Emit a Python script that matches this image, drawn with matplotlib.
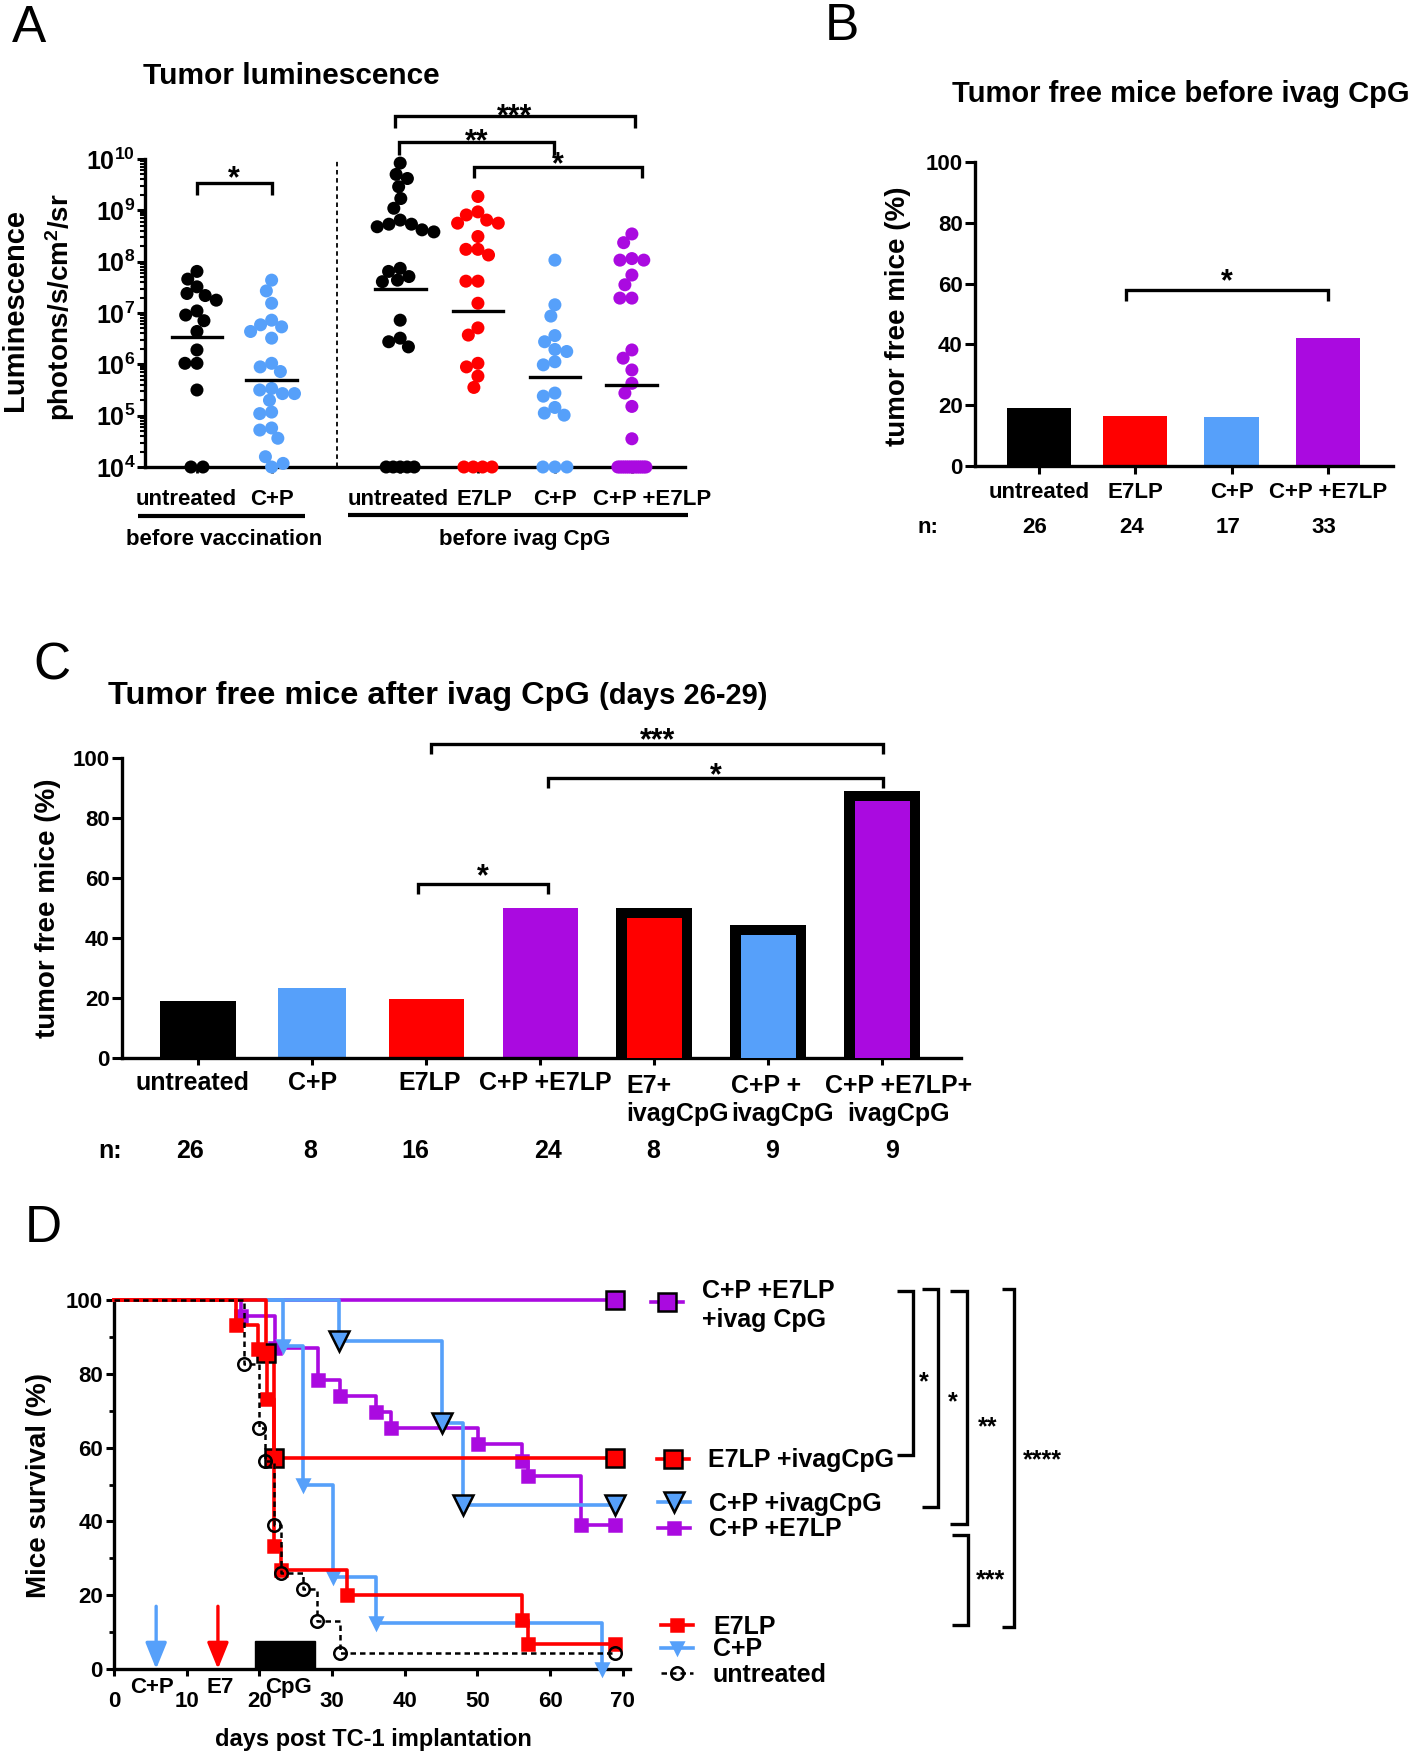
import numpy as np
import matplotlib
matplotlib.use('Agg')
import matplotlib.pyplot as plt
from matplotlib import transforms
from matplotlib.lines import Line2D
from matplotlib.patches import Rectangle
from matplotlib.ticker import LogLocator, NullFormatter, MultipleLocator

W, H = 1418, 1754

BLACK = '#000000'
RED = '#FF0000'
BLUE = '#56A0FA'
PURPLE = '#AA0AE0'

plt.rcParams['font.family'] = ['Liberation Sans', 'DejaVu Sans']
plt.rcParams['font.weight'] = 'bold'
plt.rcParams['mathtext.fontset'] = 'custom'
plt.rcParams['mathtext.rm'] = 'Liberation Sans:bold'
plt.rcParams['mathtext.it'] = 'Liberation Sans:bold'
plt.rcParams['mathtext.bf'] = 'Liberation Sans:bold'
plt.rcParams['axes.linewidth'] = 2.4

# ---------------- A: tumour luminescence, log10 values (4 = tumour free)
lum_groups = ['untreated', 'C+P', 'untreated', 'E7LP', 'C+P', 'C+P +E7LP']
lum_pos = [0.0, 0.97, 2.64, 3.65, 4.65, 5.65]
lum_colors = [BLACK, BLUE, BLACK, RED, BLUE, PURPLE]
lum_pre_untreated = [7.81, 7.66, 7.51, 7.38, 7.34, 7.25, 7.04, 6.96, 6.85, 6.64,
                     6.28, 6.02, 6.02, 5.50, 4, 4]
lum_pre_cp = [7.64, 7.43, 7.19, 6.86, 6.77, 6.73, 6.64, 6.51, 6.02, 5.95, 5.86,
              5.53, 5.50, 5.43, 5.43, 5.30, 5.07, 5.04, 4.76, 4.72, 4.56, 4.20,
              4.07, 4.0]
lum_untreated = [9.92, 9.70, 9.62, 9.46, 9.23, 9.04, 8.81, 8.73, 8.73, 8.68, 8.62,
                 8.58, 7.87, 7.81, 7.71, 7.64, 7.61, 6.86, 6.51, 6.44, 6.34,
                 4, 4, 4, 4, 4]
lum_e7lp = [9.27, 8.97, 8.91, 8.81, 8.75, 8.75, 8.49, 8.24, 8.24, 8.13, 7.62, 7.62,
            7.19, 6.71, 6.57, 6.02, 5.95, 5.77, 5.55, 4, 4, 4, 4]
lum_cp = [8.03, 7.16, 6.94, 6.56, 6.44, 6.29, 6.25, 6.05, 5.99, 5.44, 5.38, 5.16,
          5.05, 5.01, 4, 4, 4]
lum_cpe7 = [8.54, 8.37, 8.06, 8.03, 8.03, 7.74, 7.55, 7.29, 7.29, 6.28, 6.12, 5.89,
            5.63, 5.44, 5.18, 4.55] + [4] * 14
lum_values = [lum_pre_untreated, lum_pre_cp, lum_untreated, lum_e7lp, lum_cp, lum_cpe7]
lum_medians = [6.54, 5.69, 7.46, 7.03, 5.76, 5.60]

# ---------------- B: tumour free before ivag CpG
tfb_groups = ['untreated', 'E7LP', 'C+P', 'C+P +E7LP']
tfb_values = [19.2, 16.4, 16.1, 42.1]
tfb_n = [26, 24, 17, 33]
tfb_colors = [BLACK, RED, BLUE, PURPLE]

# ---------------- C: tumour free after ivag CpG
tfa_groups = ['untreated', 'C+P', 'E7LP', 'C+P +E7LP', 'E7+\nivagCpG',
              'C+P +\nivagCpG', 'C+P +E7LP+\nivagCpG']
tfa_values = [18.9, 23.3, 19.7, 50.0, 50.0, 44.4, 88.9]
tfa_n = [26, 8, 16, 24, 8, 9, 9]
tfa_ivag = [False, False, False, False, True, True, True]
tfa_colors = [BLACK, BLUE, RED, PURPLE, RED, BLUE, PURPLE]

# ---------------- D: survival (days, % surviving after each event)
surv_cpe7_ivag_t = [0, 69.0]
surv_cpe7_ivag = [100, 100]
surv_cpe7_t = [0, 17.5, 22.1, 28.1, 31.1, 36.1, 38.1, 50.1, 56.1, 57.0, 64.2, 69.0]
surv_cpe7 = [100, 95.7, 87.0, 78.3, 73.9, 69.6, 65.2, 60.9, 56.5, 52.2, 39.1, 39.1]
surv_cp_ivag_t = [0, 30.9, 45.1, 48.0, 69.0]
surv_cp_ivag = [100, 88.9, 66.7, 44.4, 44.4]
surv_cp_t = [0, 23.2, 26.0, 30.1, 36.0, 67.1]
surv_cp = [100, 87.5, 50.0, 25.0, 12.5, 0]
surv_e7_ivag_t = [0, 20.9, 22.0, 69.0]
surv_e7_ivag = [100, 85.7, 57.1, 57.1]
surv_e7_t = [0, 16.8, 19.8, 21.1, 22.0, 23.0, 32.0, 56.1, 57.0, 69.0]
surv_e7 = [100, 93.3, 86.7, 73.3, 33.3, 26.7, 20.0, 13.3, 6.7, 6.7]
surv_untr_t = [0, 17.9, 19.9, 20.8, 22.0, 23.0, 26.0, 28.0, 31.1, 69.0]
surv_untr = [100, 82.6, 65.2, 56.5, 39.1, 26.1, 21.7, 13.0, 4.3, 4.3]

treat_names = ['C+P', 'E7', 'CpG']
treat_days = [5.8, 14.3]
cpg_days = [19.4, 27.7]

fig = plt.figure(figsize=(W / 100, H / 100), dpi=100)
tpx = transforms.Affine2D().scale(1.0 / W, -1.0 / H).translate(0, 1) + fig.transFigure


def em(fs):
    return fs * 100 / 72.0


def add_ax(x0, y0, x1, y1):
    ax = fig.add_axes([x0 / W, 1 - y1 / H, (x1 - x0) / W, (y1 - y0) / H])
    ax.spines['top'].set_visible(False)
    ax.spines['right'].set_visible(False)
    ax.patch.set_alpha(0)
    return ax


def blend(ax):
    return transforms.blended_transform_factory(ax.transData, tpx)


def text(x, yc, s, fs, tr=None, **kw):
    # yc = visual centre of the first line, in pixels from the top
    kw.setdefault('ha', 'center')
    extra = s.count('\n') * 1.2 * em(fs)
    return fig.text(x, yc + 0.34 * em(fs) + extra, s, fontsize=fs,
                    transform=tr or tpx, va='baseline', linespacing=1.2, **kw)


def stars(x, yc, s, fs, tr=None):
    fig.text(x, yc + 0.56 * em(fs), s, fontsize=fs, transform=tr or tpx,
             ha='center', va='baseline')


def vlabel(x, yc, s, fs):
    fig.text(x, yc, s, fontsize=fs, transform=tpx, rotation=90, ha='center', va='center')


def line(xs, ys, tr=None, lw=2.4, **kw):
    fig.add_artist(Line2D(xs, ys, transform=tr or tpx, color='k', lw=lw,
                          solid_capstyle='butt', solid_joinstyle='miter', **kw))


def bracket(ax, x1, x2, ytop, yleg, s, ys, fs=22):
    tr = blend(ax)
    line([x1, x1, x2, x2], [yleg, ytop, ytop, yleg], tr)
    stars((x1 + x2) / 2, ys, s, fs, tr)


def letter(x, yc, s):
    fig.text(x, yc + 0.36 * em(37), s, fontsize=37, fontweight='normal',
             transform=tpx, ha='left', va='baseline')


# ======================= A
PX_UNIT_A = 77.0
PX_DEC_A = 51.33


def swarm(vals, d=12.0, floor_span=28.0):
    v = np.asarray(vals, float)
    y = (v - 4.0) * PX_DEC_A
    off = np.zeros(len(v))
    floor = v <= 4.0
    nf = int(floor.sum())
    if nf > 1:
        span = min((nf - 1) * d, floor_span)
        off[floor] = np.linspace(-span / 2, span / 2, nf)
    placed = [(off[i], y[i]) for i in np.where(floor)[0]]
    for i in np.argsort(v)[::-1]:
        if floor[i]:
            continue
        cands = [0.0]
        for px_, py_ in placed:
            dy = abs(py_ - y[i])
            if dy < d:
                dx = np.sqrt(d * d - dy * dy)
                cands += [px_ - dx, px_ + dx]
        cands.sort(key=abs)
        for c in cands:
            if all((c - px_) ** 2 + (y[i] - py_) ** 2 >= d * d - 1e-6 for px_, py_ in placed):
                off[i] = c
                break
        placed.append((off[i], y[i]))
    return off / PX_UNIT_A


axA = add_ax(145, 159, 685, 467)
axA.set_yscale('log')
for vals, p, c, med in zip(lum_values, lum_pos, lum_colors, lum_medians):
    v = np.array(vals)
    axA.scatter(p + swarm(v), 10 ** v, s=88, color=c, edgecolors='none',
                clip_on=False, zorder=3)
    axA.plot([p - 0.33, p + 0.33], [10 ** med] * 2, color='k', lw=2.4, zorder=4)
axA.axvline(1.82, color='k', lw=1.3, ls=(0, (2.5, 2.0)), zorder=1)
axA.set_yticks([10.0 ** k for k in range(4, 11)])
axA.set_yticklabels([r'$10^{%d}$' % k for k in range(4, 11)])
axA.yaxis.set_minor_locator(LogLocator(base=10, subs=np.arange(2, 10), numticks=20))
axA.yaxis.set_minor_formatter(NullFormatter())
axA.tick_params(axis='y', which='major', length=6, width=2.2, labelsize=18, pad=1)
axA.tick_params(axis='y', which='minor', length=3.5, width=1.5)
axA.set_xticks(lum_pos)
axA.set_xticklabels([])
axA.tick_params(axis='x', length=4, width=2.0)
axA.set_xlim(-0.675, 6.34)
axA.set_ylim(1e4, 1e10)

lum_lab_dx = [-11, 0, -2, 7, 0, 20]
for g, p, dx in zip(lum_groups, lum_pos, lum_lab_dx):
    text(p + dx / PX_UNIT_A, 497, g, 16, blend(axA))
line([138, 305], [516, 516], lw=3)
text(224, 537, 'before vaccination', 16)
line([348, 688], [515, 515], lw=3)
text(525, 537, 'before ivag CpG', 16)

bracket(axA, 0.0, 0.97, 183, 195, '*', 170)
bracket(axA, 2.57, 5.69, 116, 128, '***', 108)
bracket(axA, 2.62, 4.64, 142, 155, '**', 133)
bracket(axA, 3.60, 5.78, 167, 178, '*', 156)

vlabel(15, 310, 'Luminescence', 21)
vlabel(60, 307, r'photons/s/cm$^2$/sr', 20)
text(143, 74, 'Tumor luminescence', 21.5, ha='left')
letter(12, 23, 'A')

# ======================= B
axB = add_ax(975, 162, 1393, 466)
wB = [0.665, 0.665, 0.57, 0.665]
axB.bar(range(len(tfb_values)), tfb_values, width=wB, color=tfb_colors, zorder=2)
axB.set_xlim(-0.665, 3.676)
axB.set_ylim(0, 100)
axB.yaxis.set_major_locator(MultipleLocator(20))
axB.tick_params(axis='y', length=7, width=2.2, labelsize=16, pad=2)
axB.set_xticks(range(len(tfb_values)))
axB.set_xticklabels([])
axB.tick_params(axis='x', length=6, width=2.2)
trB = blend(axB)
for i, g in enumerate(tfb_groups):
    text(i, 490, g, 16, trB)
    text(i - 4 / 96.3, 525, str(tfb_n[i]), 16, trB)
text(928, 525, 'n:', 16)
bracket(axB, 0.9, 3.0, 290, 301, '*', 273)
vlabel(898, 316, 'tumor free mice (%)', 20)
text(952, 92, 'Tumor free mice before ivag CpG', 21, ha='left')
letter(825, 22, 'B')

# ======================= C
axC = add_ax(122, 758, 961, 1058)
xc = np.arange(len(tfa_values))
wC = [0.66, 0.59, 0.66, 0.66, 0.66, 0.66, 0.66]
for i in xc:
    v = tfa_values[i]
    if tfa_ivag[i]:
        axC.bar(i, v, width=0.665, color='k', zorder=2)
        axC.bar(i, v - 10 / 3.0, width=0.48, color=tfa_colors[i], zorder=3)
    else:
        axC.bar(i, v, width=wC[i], color=tfa_colors[i], zorder=2)
axC.set_xlim(-0.667, 6.69)
axC.set_ylim(0, 100)
axC.yaxis.set_major_locator(MultipleLocator(20))
axC.tick_params(axis='y', length=7, width=2.2, labelsize=16, pad=2)
axC.set_xticks(xc)
axC.set_xticklabels([])
axC.tick_params(axis='x', length=5, width=2.2)
trC = blend(axC)
lab_dx = [-6, 0, 3, 5, 23, 14, 16]
lab_align = ['center'] * 4 + ['left', 'left', 'center']
n_dx = [-8, -2, -11, 8, -1, 4, 10]
for i, g in enumerate(tfa_groups):
    text(i + lab_dx[i] / 114.0, 1082, g, 18, trC, multialignment=lab_align[i])
    text(i + n_dx[i] / 114.0, 1150, str(tfa_n[i]), 18, trC)
text(110, 1150, 'n:', 18)
bracket(axC, 2.04, 6.01, 744, 754, '***', 732)
bracket(axC, 3.07, 6.01, 778, 788, '*', 767)
bracket(axC, 1.93, 3.07, 884, 894, '*', 868)
vlabel(48, 908, 'tumor free mice (%)', 20)
tC = text(108, 693, 'Tumor free mice after ivag CpG', 23.4, ha='left')
r = fig.canvas.get_renderer()
bb = tC.get_window_extent(r)
x_end = bb.x1 / fig.dpi * 100 + 9
fig.text(x_end, 693 + 0.34 * em(23.4), '(days 26-29)', fontsize=21, transform=tpx,
         ha='left', va='baseline')
letter(33, 661, 'C')

# ======================= D
axD = add_ax(114, 1300, 630, 1669)
curves = [
    (surv_cpe7_ivag_t, surv_cpe7_ivag, PURPLE, 's', 13, 'k', '-', 2.6),
    (surv_cpe7_t, surv_cpe7, PURPLE, 's', 8, PURPLE, '-', 2.6),
    (surv_cp_ivag_t, surv_cp_ivag, BLUE, 'v', 14, 'k', '-', 2.6),
    (surv_cp_t, surv_cp, BLUE, 'v', 8, BLUE, '-', 2.6),
    (surv_e7_ivag_t, surv_e7_ivag, RED, 's', 13, 'k', '-', 2.6),
    (surv_e7_t, surv_e7, RED, 's', 8, RED, '-', 2.6),
    (surv_untr_t, surv_untr, BLACK, 'o', 9, 'k', (0, (2.2, 1.6)), 1.8),
]
for z, (t, s, c, m, ms, mec, ls, lw) in enumerate(curves):
    axD.step(t, s, where='post', color=c, lw=lw, ls=ls, clip_on=False, zorder=3 + z)
    mfc = 'none' if m == 'o' else c
    axD.plot(t[1:], s[1:], ls='none', marker=m, ms=ms, mfc=mfc, mec=mec,
             mew=1.8, clip_on=False, zorder=3 + z)

for d, c in zip(treat_days, [BLUE, RED]):
    axD.annotate('', xy=(d, 0), xytext=(d, 17),
                 arrowprops=dict(arrowstyle='-|>,head_length=1.6,head_width=0.65',
                                 color=c, lw=2.4, shrinkA=0, shrinkB=0),
                 annotation_clip=False, zorder=2)
axD.add_patch(Rectangle((cpg_days[0], 0), cpg_days[1] - cpg_days[0], 7.5, color='k', zorder=2))
axD.set_xlim(0, 71)
axD.set_ylim(0, 100)
axD.xaxis.set_major_locator(MultipleLocator(10))
axD.yaxis.set_major_locator(MultipleLocator(20))
axD.yaxis.set_minor_locator(MultipleLocator(10))
axD.tick_params(axis='y', which='major', length=6, width=2.2, labelsize=16, pad=2)
axD.tick_params(axis='y', which='minor', length=3.5, width=2.0)
axD.tick_params(axis='x', length=5, width=2.2, labelsize=16, pad=11)
for name, x in zip(treat_names, [152, 220, 289]):
    text(x, 1685, name, 16)
vlabel(39, 1485, 'Mice survival (%)', 20)
text(373, 1738, 'days post TC-1 implantation', 17)
letter(25, 1223, 'D')

legend = [
    (667, 1302, PURPLE, 's', 13, 'k', '-', 2.6),
    (673, 1459, RED, 's', 13, 'k', '-', 2.6),
    (674, 1502, BLUE, 'v', 14, 'k', '-', 2.6),
    (674, 1528, PURPLE, 's', 8, PURPLE, '-', 2.6),
    (677, 1625, RED, 's', 8, RED, '-', 2.6),
    (677, 1648, BLUE, 'v', 8, BLUE, '-', 2.6),
    (677, 1673, BLACK, 'o', 9, 'k', (0, (2.2, 1.6)), 1.8),
]
for x, y, c, m, ms, mec, ls, lw in legend:
    fig.add_artist(Line2D([x - 16, x + 16], [y, y], transform=tpx, color=c, lw=lw, ls=ls))
    fig.add_artist(Line2D([x], [y], transform=tpx, ls='none', marker=m, ms=ms,
                          mfc='none' if m == 'o' else c, mec=mec, mew=1.8))
text(702, 1289, 'C+P +E7LP', 18, ha='left')
text(702, 1318, '+ivag CpG', 18, ha='left')
text(708, 1459, 'E7LP +ivagCpG', 18, ha='left')
text(709, 1502, 'C+P +ivagCpG', 18, ha='left')
text(709, 1528, 'C+P +E7LP', 18, ha='left')
text(713, 1625, 'E7LP', 18, ha='left')
text(713, 1648, 'C+P', 18, ha='left')
text(713, 1673, 'untreated', 18, ha='left')

for xv, xl, yt, yb, s, sx, sy in [(913, 897, 1291, 1455, '*', 924, 1375),
                                  (938, 922, 1289, 1507, '*', 953, 1395),
                                  (967, 950, 1291, 1524, '**', 988, 1420),
                                  (968, 952, 1535, 1625, '***', 991, 1573),
                                  (1014, 1002, 1289, 1627, '****', 1042, 1453)]:
    line([xl, xv, xv, xl], [yt, yt, yb, yb])
    stars(sx, sy, s, 18)

fig.savefig('out.png', dpi=100)
